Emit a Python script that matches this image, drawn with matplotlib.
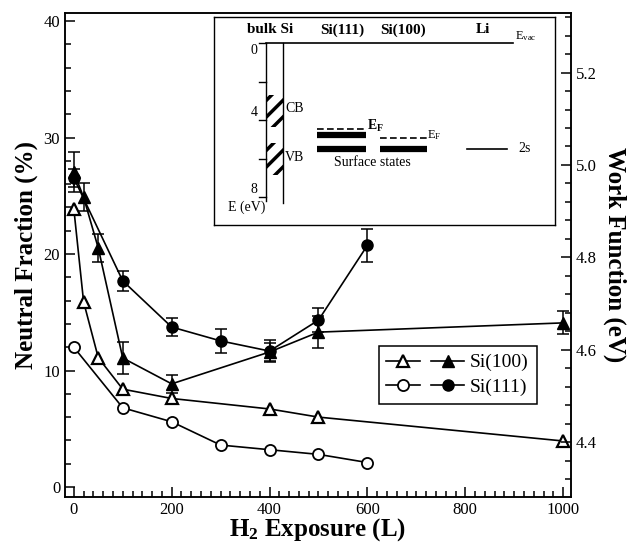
import matplotlib
matplotlib.use("Agg")
import matplotlib.pyplot as plt
from matplotlib.ticker import MultipleLocator
from matplotlib.legend_handler import HandlerTuple

plt.rcParams['font.family'] = ['Liberation Serif', 'DejaVu Serif']
plt.rcParams['mathtext.fontset'] = 'custom'
plt.rcParams['mathtext.rm'] = 'Liberation Serif'
plt.rcParams['mathtext.it'] = 'Liberation Serif:italic'
plt.rcParams['mathtext.bf'] = 'Liberation Serif:bold'
plt.rcParams['hatch.linewidth'] = 2.5

# neutral fraction (%) - open symbols, left axis
x100_nf = [0, 20, 50, 100, 200, 400, 500, 1000]
nf100 = [23.9, 15.9, 11.1, 8.4, 7.6, 6.7, 6.0, 3.95]
x111_nf = [0, 100, 200, 300, 400, 500, 600]
nf111 = [12.0, 6.8, 5.6, 3.6, 3.2, 2.8, 2.1]

# work function (eV) - filled symbols, right axis
x100_wf = [0, 20, 50, 100, 200, 400, 500, 1000]
wf100 = [4.985, 4.930, 4.820, 4.582, 4.526, 4.595, 4.638, 4.658]
wf100_err = [0.043, 0.03, 0.03, 0.035, 0.02, 0.02, 0.035, 0.025]
x111_wf = [0, 100, 200, 300, 400, 500, 600]
wf111 = [4.972, 4.749, 4.649, 4.619, 4.597, 4.664, 4.826]
wf111_err = [0.02, 0.022, 0.019, 0.026, 0.024, 0.026, 0.036]

fig = plt.figure(figsize=(6.37, 5.44), dpi=100)
ax = fig.add_axes([65/637, 1-497/544, 506/637, 484/544])
ax2 = ax.twinx()

lw = 1.2
ms = 8
t_open, = ax.plot(x100_nf, nf100, '-^', color='k', lw=lw, ms=ms, mfc='white', mew=1.6)
c_open, = ax.plot(x111_nf, nf111, '-o', color='k', lw=lw, ms=ms, mfc='white', mew=1.3)
ax2.errorbar(x100_wf, wf100, yerr=wf100_err, fmt='-^', color='k', lw=lw, ms=ms,
             capsize=4, elinewidth=1.1, capthick=1.1)
ax2.errorbar(x111_wf, wf111, yerr=wf111_err, fmt='-o', color='k', lw=lw, ms=ms,
             capsize=4, elinewidth=1.1, capthick=1.1)

ax.set_xlim(-18, 1016)
ax.set_ylim(-0.86, 40.7)
ax2.set_ylim(4.281, 5.329)

ax.xaxis.set_major_locator(MultipleLocator(200))
ax.xaxis.set_minor_locator(MultipleLocator(20))
ax.yaxis.set_major_locator(MultipleLocator(10))
ax.yaxis.set_minor_locator(MultipleLocator(2))
ax2.yaxis.set_major_locator(MultipleLocator(0.2))
ax2.yaxis.set_minor_locator(MultipleLocator(0.04))
ax2.yaxis.set_major_formatter(matplotlib.ticker.FormatStrFormatter('%.1f'))

for a in (ax, ax2):
    a.tick_params(which='both', direction='in', top=False, labelsize=12, width=1.1)
    a.tick_params(which='major', length=7)
    a.tick_params(which='minor', length=4)
    for s in a.spines.values():
        s.set_linewidth(1.1)

ax.set_xlabel(r'$\mathbf{H_2}$ Exposure (L)', fontsize=18, fontweight='bold', labelpad=-1)
ax.set_ylabel('Neutral Fraction (%)', fontsize=18, fontweight='bold', labelpad=4)
ax2.set_ylabel('Work Function (eV)', fontsize=18, fontweight='bold', rotation=270, labelpad=21)

# legend with open + filled handle pairs
t_fill, = ax.plot([], [], '-^', color='k', lw=lw, ms=ms)
c_fill, = ax.plot([], [], '-o', color='k', lw=lw, ms=ms)
leg = ax.legend([(t_open, t_fill), (c_open, c_fill)], ['Si(100)', 'Si(111)'],
                handler_map={tuple: HandlerTuple(ndivide=None, pad=0.6)},
                loc='upper left', bbox_to_anchor=(0.62, 0.312), borderaxespad=0,
                fontsize=14, handlelength=4.0, fancybox=False, framealpha=1,
                edgecolor='k', labelspacing=0.35, handletextpad=0.3, borderpad=0.4)
leg.get_frame().set_linewidth(1.1)

# inset: energy diagram
ins = fig.add_axes([214/637, 1-225/544, 341/637, 208/544])
ins.set_xlim(0, 341)
ins.set_ylim(9.45, -1.35)
ins.set_xticks([])
ins.set_yticks([])
for s in ins.spines.values():
    s.set_linewidth(1.0)

bulk_x = [51.7, 69.3]
cb_band = [2.7, 4.36]
vb_band = [5.2, 6.86]
e_ticks = [0, 2, 4, 6, 8]
e_ticklabels = ['0', '', '4', '', '8']

ins.plot([bulk_x[0], bulk_x[0]], [0, 8.2], color='k', lw=1)
ins.plot([bulk_x[1], bulk_x[1]], [0, 8.3], color='k', lw=1)
ins.plot([bulk_x[0], 299], [0, 0], color='k', lw=1.2)
for e, lab in zip(e_ticks, e_ticklabels):
    ins.plot([bulk_x[0] - 7, bulk_x[0]], [e, e], color='k', lw=1)
    if lab:
        off = 0.4 if e == 0 else -0.4
        ins.text(bulk_x[0] - 8, e + off, lab, ha='right', va='center', fontsize=10)
for band in (cb_band, vb_band):
    ins.fill_between(bulk_x, band[0], band[1], facecolor='white', edgecolor='k',
                     hatch='//', linewidth=0)
ins.text(71, 3.4, 'CB', fontsize=10, va='center')
ins.text(71, 5.95, 'VB', fontsize=10, va='center')
ins.text(33, 8.55, 'E (eV)', fontsize=10, ha='center', va='center')

headers = ['bulk Si', 'Si(111)', 'Si(100)', 'Li']
header_x = [56, 128, 189, 269]
for h, hx in zip(headers, header_x):
    ins.text(hx, -0.68, h, fontsize=11, fontweight='bold', ha='center', va='center')
ins.text(301, 0.0, r'E$_{\mathrm{vac}}$', fontsize=9, ha='left', va='bottom')

# surface states
s111_x = [103, 152]
s100_x = [166, 213]
ins.plot(s111_x, [4.48, 4.48], color='k', lw=1.2, ls=(0, (4, 2)))
ins.plot(s111_x, [4.78, 4.78], color='k', lw=4.5, solid_capstyle='butt')
ins.plot(s111_x, [5.5, 5.5], color='k', lw=4.5, solid_capstyle='butt')
ins.plot(s100_x, [4.93, 4.93], color='k', lw=1.2, ls=(0, (4, 2)))
ins.plot(s100_x, [5.5, 5.5], color='k', lw=4.5, solid_capstyle='butt')
ins.text(153, 4.3, r'E$_\mathbf{F}$', fontsize=10, fontweight='bold', ha='left', va='center')
ins.text(213, 4.8, r'E$_\mathrm{F}$', fontsize=9, ha='left', va='center')
ins.text(158, 6.2, 'Surface states', fontsize=10, ha='center', va='center')

li_x = [253, 293]
ins.plot(li_x, [5.5, 5.5], color='k', lw=1.2)
ins.text(304, 5.5, '2s', fontsize=10, ha='left', va='center')

fig.savefig('out.png', dpi=100)
